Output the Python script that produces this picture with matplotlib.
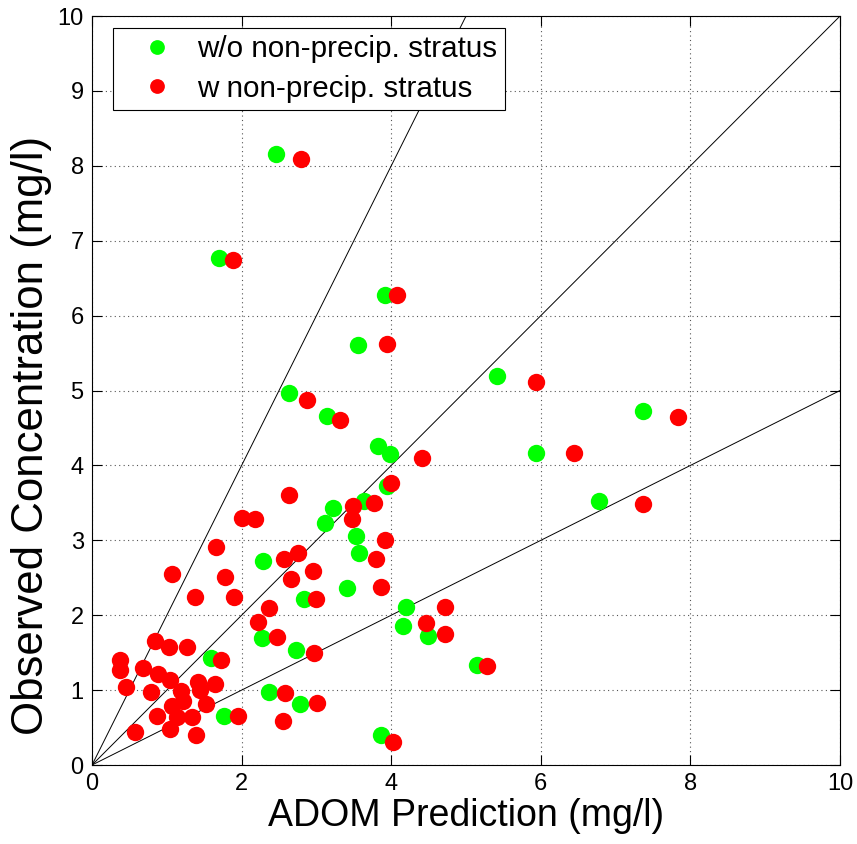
import numpy as np
import matplotlib
matplotlib.use("Agg")
import matplotlib.pyplot as plt

plt.rcParams["font.family"] = ["Liberation Sans", "DejaVu Sans"]

# w/o non-precip. stratus
green_x = [2.46, 1.70, 3.92, 3.56, 5.42, 2.63, 3.14, 7.36, 3.82, 3.99, 5.94, 3.95,
           6.78, 3.64, 3.22, 3.12, 3.53, 3.57, 2.28, 3.41, 2.83, 4.20, 4.16, 4.49,
           2.27, 2.73, 1.59, 5.14, 2.37, 2.78, 1.76, 3.86]
green_y = [8.16, 6.77, 6.27, 5.61, 5.19, 4.97, 4.66, 4.72, 4.26, 4.15, 4.17, 3.72,
           3.53, 3.53, 3.43, 3.23, 3.06, 2.83, 2.73, 2.36, 2.21, 2.11, 1.85, 1.72,
           1.69, 1.53, 1.43, 1.34, 0.98, 0.82, 0.65, 0.40]

# w non-precip. stratus
red_x = [2.80, 1.88, 4.08, 3.94, 5.93, 2.88, 3.32, 7.84, 4.41, 6.44, 4.00, 7.36,
         2.63, 3.77, 3.49, 3.48, 2.00, 2.18, 3.92, 1.66, 3.79, 2.57, 2.76, 2.96,
         2.66, 1.78, 3.86, 1.90, 3.00, 1.38, 2.36, 2.22, 2.47, 2.97, 4.47, 4.72,
         4.72, 1.72, 2.58, 3.01, 1.95, 2.55, 4.03, 5.28, 1.07, 0.84, 1.03, 1.27,
         0.37, 0.37, 0.68, 0.88, 1.04, 0.45, 0.79, 1.19, 1.21, 1.42, 1.44, 1.64,
         1.53, 1.07, 1.14, 1.33, 0.87, 1.04, 0.57, 1.39]
red_y = [8.09, 6.74, 6.28, 5.62, 5.12, 4.88, 4.61, 4.64, 4.10, 4.16, 3.77, 3.48,
         3.61, 3.50, 3.46, 3.28, 3.30, 3.29, 3.00, 2.91, 2.75, 2.75, 2.83, 2.59,
         2.49, 2.51, 2.37, 2.24, 2.21, 2.24, 2.09, 1.91, 1.71, 1.49, 1.90, 2.11,
         1.75, 1.40, 0.96, 0.83, 0.65, 0.59, 0.31, 1.32, 2.55, 1.65, 1.58, 1.58,
         1.40, 1.27, 1.29, 1.22, 1.13, 1.04, 0.97, 0.99, 0.85, 1.11, 1.00, 1.08,
         0.82, 0.79, 0.64, 0.64, 0.66, 0.48, 0.44, 0.40]

# reference lines y = s*x (2:1, 1:1, 1:2)
ref_slopes = [2.0, 1.0, 0.5]

fig = plt.figure(figsize=(8.57, 8.44), dpi=100)
ax = fig.add_axes([0.1074, 0.0936, 0.8728, 0.8874])

xs = np.array([0, 10])
for s in ref_slopes:
    ax.plot(xs, s * xs, color="black", lw=0.7)

ax.plot(green_x, green_y, "o", color="#00ff00", ms=12.5, mec="none",
        label="w/o non-precip. stratus", zorder=3)
ax.plot(red_x, red_y, "o", color="#ff0000", ms=12.5, mec="none",
        label="w non-precip. stratus", zorder=4)

ax.set_xlim(0, 10)
ax.set_ylim(0, 10)
ax.set_xticks(range(0, 11, 2))
ax.set_yticks(range(0, 11, 1))
ax.tick_params(direction="in", top=True, right=True, length=7, width=0.8,
               labelsize=17, pad=6)
ax.grid(True, ls=(0, (1, 3)), color="#555555", lw=0.8)
for sp in ax.spines.values():
    sp.set_linewidth(0.8)

ax.set_xlabel("ADOM Prediction (mg/l)", fontsize=27, labelpad=2)
ax.set_ylabel("Observed Concentration (mg/l)", fontsize=31.5)
ax.yaxis.set_label_coords(-0.054, 0.44)

leg = ax.legend(loc="upper left", bbox_to_anchor=(0.028, 0.984), borderaxespad=0,
                fontsize=21.3, fancybox=False, framealpha=1, edgecolor="black",
                borderpad=0.25, handlelength=2.45, handletextpad=0.15,
                labelspacing=0.38, markerscale=0.85)
leg.get_frame().set_linewidth(0.8)

fig.savefig("out.png", dpi=100)
